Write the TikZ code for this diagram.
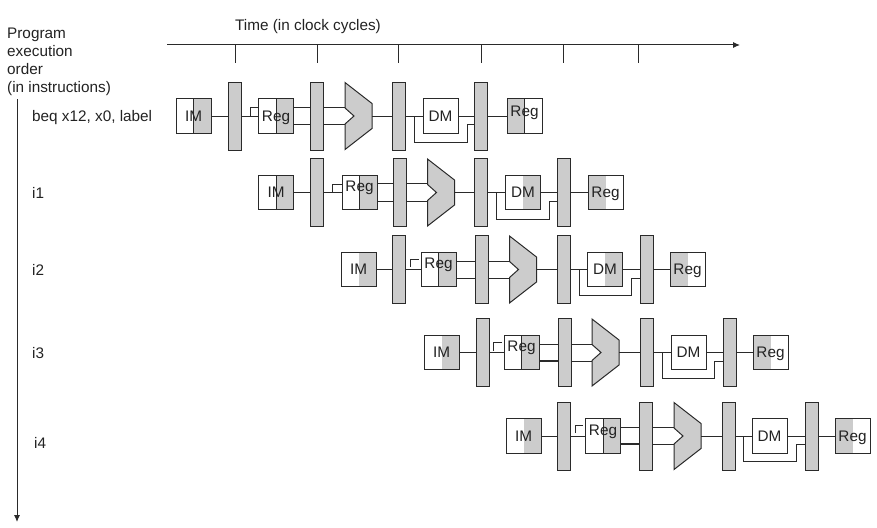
\documentclass[tikz,border=0pt]{standalone}
\usepackage{fontspec}
\setmainfont{Liberation Sans}
\usepackage{tikz}
\usetikzlibrary{positioning,arrows.meta}
\definecolor{stagegray}{HTML}{CCCCCC}
\definecolor{linegray}{HTML}{2A2A2A}
\definecolor{textgray}{HTML}{222222}

\tikzset{
  txt/.style={font=\fontsize{15.3}{18}\selectfont, text=textgray, inner sep=0pt},
  wire/.style={draw=linegray, line width=1pt},
  boldwire/.style={draw=linegray, line width=2pt},
  latch/.style={draw=linegray, line width=1pt, fill=stagegray,
    minimum width=13pt, minimum height=68pt, inner sep=0pt},
  box/.style={txt, draw=linegray, line width=1pt, fill=white,
    minimum width=35pt, minimum height=34.5pt, text height=10.7pt, text depth=0pt},
  greyright/.style={path picture={
    \fill[stagegray] (path picture bounding box.south) rectangle (path picture bounding box.north east);}},
  greyleft/.style={path picture={
    \fill[stagegray] (path picture bounding box.south west) rectangle (path picture bounding box.north);}},
  splitright/.style={path picture={
    \fill[stagegray] (path picture bounding box.south) rectangle (path picture bounding box.north east);
    \draw[linegray, line width=1pt] (path picture bounding box.south) -- (path picture bounding box.north);}},
  splitleft/.style={path picture={
    \fill[stagegray] (path picture bounding box.south west) rectangle (path picture bounding box.north);
    \draw[linegray, line width=1pt] (path picture bounding box.south) -- (path picture bounding box.north);}},
  alu/.pic={\draw[linegray, fill=stagegray, line width=1pt]
    (0,-33.5) -- (27,-12.5) -- (27,12.5) -- (0,33.5) -- (0,8) -- (9,0) -- (0,-8) -- cycle;},
}
\newcommand{\up}[1]{\raisebox{6pt}{#1}}

\begin{document}
\begin{tikzpicture}[x=1pt, y=-1pt, >={Latex[length=7pt,width=6pt]}]
\useasboundingbox (0,0) rectangle (877,527);

% axes and texts
\node[txt, anchor=west] (time) at (235,27) {Time (in clock cycles)};
\node[txt, anchor=west, align=left] (prog) at (7,62) {Program\\execution\\order\\(in instructions)};
\node[txt, anchor=west] (beq) at (32,118) {beq x12, x0, label};
\node[txt, anchor=west] (i1) at (32,193) {i1};
\node[txt, anchor=west] (i2) at (32,270) {i2};
\node[txt, anchor=west] (i3) at (32,353) {i3};
\node[txt, anchor=west] (i4) at (34,443) {i4};
\coordinate (ax0) at (167,45);
\coordinate (ax1) at (740,45);
\coordinate (ord0) at (17,99);
\coordinate (ord1) at (17,522);
\coordinate (tk) at (0,62.5);
\coordinate (t1) at (235,45);
\coordinate (t2) at (317,45);
\coordinate (t3) at (398,45);
\coordinate (t4) at (481,45);
\coordinate (t5) at (563,45);
\coordinate (t6) at (638,45);
\draw[->, wire] (ax0) -- (ax1);
\draw[->, wire] (ord0) -- (ord1);
\draw[wire] (t1) -- (t1 |- tk);
\draw[wire] (t2) -- (t2 |- tk);
\draw[wire] (t3) -- (t3 |- tk);
\draw[wire] (t4) -- (t4 |- tk);
\draw[wire] (t5) -- (t5 |- tk);
\draw[wire] (t6) -- (t6 |- tk);

% beq
\node[box, splitright] (im0) at (193.5,116) {IM};
\node[latch] (pa0) at (234.5,116) {};
\node[box, splitright] (id0) at (276,116) {Reg};
\node[latch] (pb0) at (316.5,116) {};
\coordinate (al0) at (345,116);
\coordinate (ar0) at (372,116);
\coordinate (up0) at (0,107);
\coordinate (lo0) at (0,124.5);
\node[latch] (pc0) at (399,116) {};
\node[box] (dm0) at (440.5,116) {DM};
\node[latch] (pd0) at (481,116) {};
\node[box, splitleft] (wb0) at (524.5,116) {\raisebox{5pt}{Reg}};
\coordinate (ga0) at (250,116);
\coordinate (gb0) at (250,107);
\coordinate (fa0) at (414,116);
\coordinate (fb0) at (467,142.5);
\coordinate (fc0) at (467,124.5);
\pic at (al0) {alu};
\draw[wire] (im0) -- (pa0);
\draw[wire] (pa0) -- (id0);
\draw[wire] (ga0) -- (gb0) -- (id0.west |- gb0);
\draw[wire] (id0.east |- up0) -- (pb0.west |- up0);
\draw[wire] (id0.east |- lo0) -- (pb0.west |- lo0);
\draw[wire] (pb0.east |- up0) -- (al0 |- up0);
\draw[wire] (pb0.east |- lo0) -- (al0 |- lo0);
\draw[wire] (ar0) -- (pc0);
\draw[wire] (pc0) -- (dm0);
\draw[wire] (dm0) -- (pd0);
\draw[wire] (fa0) |- (fb0) -- (fc0) -- (pd0.west |- fc0);
\draw[wire] (pd0) -- (wb0);

% i1
\node[box, splitright] (im1) at (276,192.5) {IM};
\node[latch] (pa1) at (317,192.5) {};
\node[box, splitright] (id1) at (359.5,192.5) {\up{Reg}};
\node[latch] (pb1) at (399.5,192.5) {};
\coordinate (al1) at (427.5,192.5);
\coordinate (ar1) at (454.5,192.5);
\coordinate (up1) at (0,183.5);
\coordinate (lo1) at (0,201);
\node[latch] (pc1) at (481,192.5) {};
\node[box, greyright] (dm1) at (523,192.5) {DM};
\node[latch] (pd1) at (564,192.5) {};
\node[box, greyleft] (wb1) at (605.5,192.5) {Reg};
\coordinate (ga1) at (332.5,192.5);
\coordinate (gb1) at (332.5,184.5);
\coordinate (fa1) at (496,192.5);
\coordinate (fb1) at (549.5,219);
\coordinate (fc1) at (549.5,201);
\pic at (al1) {alu};
\draw[wire] (im1) -- (pa1);
\draw[wire] (pa1) -- (id1);
\draw[wire] (ga1) -- (gb1) -- (id1.west |- gb1);
\draw[wire] (id1.east |- up1) -- (pb1.west |- up1);
\draw[wire] (id1.east |- lo1) -- (pb1.west |- lo1);
\draw[wire] (pb1.east |- up1) -- (al1 |- up1);
\draw[wire] (pb1.east |- lo1) -- (al1 |- lo1);
\draw[wire] (ar1) -- (pc1);
\draw[wire] (pc1) -- (dm1);
\draw[wire] (dm1) -- (pd1);
\draw[wire] (fa1) |- (fb1) -- (fc1) -- (pd1.west |- fc1);
\draw[wire] (pd1) -- (wb1);

% i2
\node[box, greyright] (im2) at (358.5,269.5) {IM};
\node[latch] (pa2) at (399,269.5) {};
\node[box, splitright] (id2) at (438.5,269.5) {\up{Reg}};
\node[latch] (pb2) at (481.5,269.5) {};
\coordinate (al2) at (509.5,269.5);
\coordinate (ar2) at (536.5,269.5);
\coordinate (up2) at (0,261);
\coordinate (lo2) at (0,278.5);
\node[latch] (pc2) at (564,269.5) {};
\node[box, greyright] (dm2) at (605,269.5) {DM};
\node[latch] (pd2) at (646.5,269.5) {};
\node[box, greyleft] (wb2) at (687.5,269.5) {Reg};
\coordinate (ga2) at (410,267);
\coordinate (gb2) at (410,259.5);
\coordinate (gc2) at (418.5,259.5);
\coordinate (fa2) at (579,269.5);
\coordinate (fb2) at (631.5,295);
\coordinate (fc2) at (631.5,278);
\pic at (al2) {alu};
\draw[wire] (im2) -- (pa2);
\draw[wire] (pa2) -- (id2);
\draw[wire] (ga2) -- (gb2) -- (gc2);
\draw[wire] (id2.east |- up2) -- (pb2.west |- up2);
\draw[wire] (id2.east |- lo2) -- (pb2.west |- lo2);
\draw[wire] (pb2.east |- up2) -- (al2 |- up2);
\draw[wire] (pb2.east |- lo2) -- (al2 |- lo2);
\draw[wire] (ar2) -- (pc2);
\draw[wire] (pc2) -- (dm2);
\draw[wire] (dm2) -- (pd2);
\draw[wire] (fa2) |- (fb2) -- (fc2) -- (pd2.west |- fc2);
\draw[wire] (pd2) -- (wb2);

% i3
\node[box, greyright] (im3) at (441.5,352.5) {IM};
\node[latch] (pa3) at (482.5,352.5) {};
\node[box, splitright] (id3) at (521.5,352.5) {\up{Reg}};
\node[latch] (pb3) at (564.5,352.5) {};
\coordinate (al3) at (592,352.5);
\coordinate (ar3) at (619,352.5);
\coordinate (up3) at (0,344);
\coordinate (lo3) at (0,361);
\node[latch] (pc3) at (647,352.5) {};
\node[box] (dm3) at (688.5,352.5) {DM};
\node[latch] (pd3) at (729.5,352.5) {};
\node[box, greyleft] (wb3) at (770.5,352.5) {Reg};
\coordinate (ga3) at (493,350.5);
\coordinate (gb3) at (493,342.5);
\coordinate (gc3) at (501.5,342.5);
\coordinate (fa3) at (662,352.5);
\coordinate (fb3) at (714,378);
\coordinate (fc3) at (714,361);
\pic at (al3) {alu};
\draw[wire] (im3) -- (pa3);
\draw[wire] (pa3) -- (id3);
\draw[wire] (ga3) -- (gb3) -- (gc3);
\draw[wire] (id3.east |- up3) -- (pb3.west |- up3);
\draw[boldwire] (id3.east |- lo3) -- (pb3.west |- lo3);
\draw[wire] (pb3.east |- up3) -- (al3 |- up3);
\draw[wire] (pb3.east |- lo3) -- (al3 |- lo3);
\draw[wire] (ar3) -- (pc3);
\draw[wire] (pc3) -- (dm3);
\draw[wire] (dm3) -- (pd3);
\draw[wire] (fa3) |- (fb3) -- (fc3) -- (pd3.west |- fc3);
\draw[wire] (pd3) -- (wb3);

% i4
\node[box, greyright] (im4) at (523.5,436) {IM};
\node[latch] (pa4) at (563.5,436) {};
\node[box, splitright] (id4) at (603,436) {\up{Reg}};
\node[latch] (pb4) at (646,436) {};
\coordinate (al4) at (674,436);
\coordinate (ar4) at (701,436);
\coordinate (up4) at (0,427);
\coordinate (lo4) at (0,444);
\node[latch] (pc4) at (728.5,436) {};
\node[box] (dm4) at (769.5,436) {DM};
\node[latch] (pd4) at (811.5,436) {};
\node[box, greyleft] (wb4) at (852.5,436) {Reg};
\coordinate (ga4) at (575,433);
\coordinate (gb4) at (575,425);
\coordinate (gc4) at (583,425);
\coordinate (fa4) at (743.5,436);
\coordinate (fb4) at (796,461.5);
\coordinate (fc4) at (796,444);
\pic at (al4) {alu};
\draw[wire] (im4) -- (pa4);
\draw[wire] (pa4) -- (id4);
\draw[wire] (ga4) -- (gb4) -- (gc4);
\draw[wire] (id4.east |- up4) -- (pb4.west |- up4);
\draw[boldwire] (id4.east |- lo4) -- (pb4.west |- lo4);
\draw[wire] (pb4.east |- up4) -- (al4 |- up4);
\draw[wire] (pb4.east |- lo4) -- (al4 |- lo4);
\draw[wire] (ar4) -- (pc4);
\draw[wire] (pc4) -- (dm4);
\draw[wire] (dm4) -- (pd4);
\draw[wire] (fa4) |- (fb4) -- (fc4) -- (pd4.west |- fc4);
\draw[wire] (pd4) -- (wb4);
\end{tikzpicture}
\end{document}
